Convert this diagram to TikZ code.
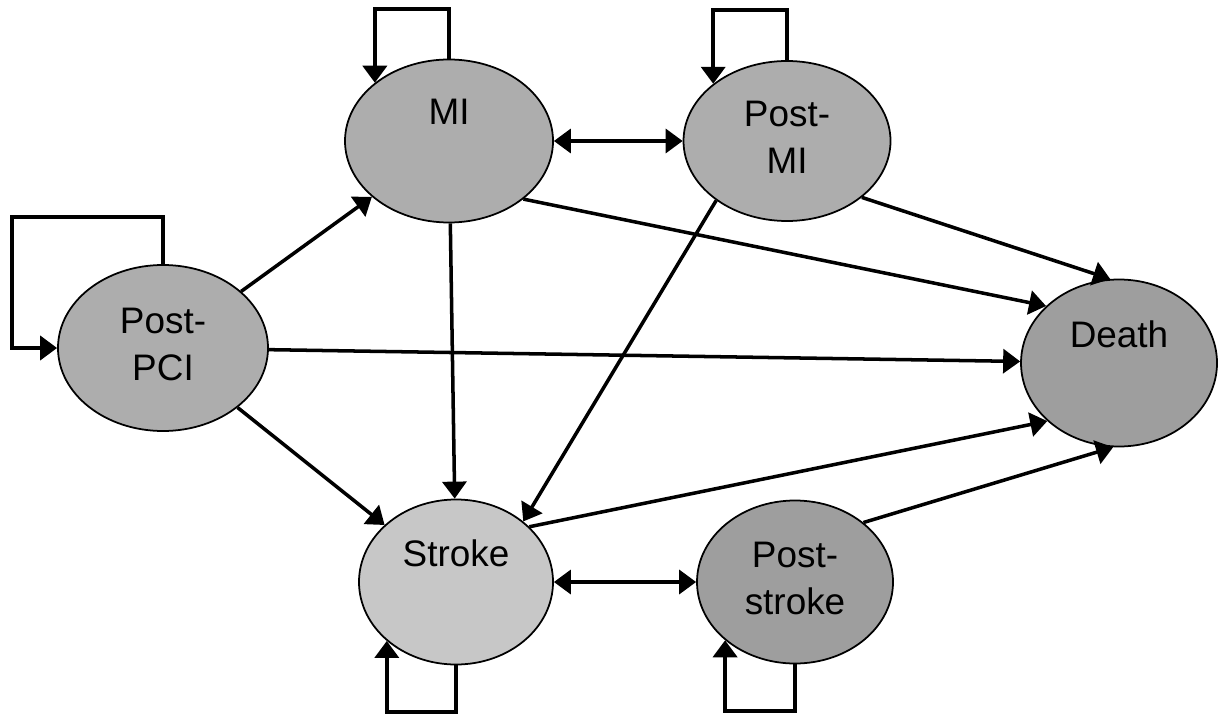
\documentclass[tikz,border=0pt]{standalone}
\usepackage{fontspec}
\setmainfont{Liberation Sans}
\usetikzlibrary{shapes.geometric, arrows.meta, positioning}
\definecolor{grisFosc}{gray}{0.62}
\definecolor{grisMitja}{gray}{0.68}
\definecolor{grisClar}{gray}{0.78}
\tikzstyle{estat} = [ellipse, minimum width=4cm, minimum height=3.3cm, inner sep=0, text centered, draw=black, line width=1pt, font=\fontsize{21}{27}\selectfont]
\tikzstyle{unaLinia} = [text depth=11.6mm]
\tikzstyle{duesLinies} = [align=center, text depth=1.5mm]
\tikzstyle{arrow} = [line width=2pt, -{Triangle[length=3.4mm, width=4.8mm]}]
\tikzstyle{dobleArrow} = [line width=2pt, {Triangle[length=3.4mm, width=4.8mm]}-{Triangle[length=3.4mm, width=4.8mm]}]
\tikzstyle{bucle} = [line width=2.2pt, -{Triangle[length=3.4mm, width=4.8mm]}]

\begin{document}
\begin{tikzpicture}[x=0.2mm, y=-0.2mm, node distance=2cm]
	\useasboundingbox (0,0) rectangle (1218,714);
	
	% Estats del model
	\node (postpci) [estat, duesLinies, fill=grisMitja, minimum width=4.2cm, minimum height=3.32cm] at (163,348) {Post-\\PCI};
	\node (mi) [estat, unaLinia, fill=grisMitja, right of=postpci, xshift=3.72cm, yshift=4.14cm, minimum width=4.16cm, minimum height=3.26cm] {MI};
	\node (postmi) [estat, duesLinies, fill=grisMitja, right of=mi, xshift=4.76cm, minimum width=4.14cm, minimum height=3.2cm] {Post-\\MI};
	\node (death) [estat, unaLinia, fill=grisFosc, right of=postmi, xshift=4.64cm, yshift=-4.44cm, minimum width=3.92cm, minimum height=3.34cm] {Death};
	\node (stroke) [estat, unaLinia, fill=grisClar, below of=mi, xshift=0.14cm, yshift=-6.82cm, minimum width=3.88cm, minimum height=3.3cm] {Stroke};
	\node (poststroke) [estat, duesLinies, fill=grisFosc, right of=stroke, xshift=4.78cm, minimum width=3.92cm, minimum height=3.26cm] {Post-\\stroke};
	
	\coordinate (cantonadaPCI) at (12,217);
	
	% Transicions entre estats
	\draw [arrow] (postpci) -- (mi);
	\draw [arrow] (postpci) -- (death);
	\draw [arrow] (postpci) -- (stroke);
	\draw [arrow] (mi) -- (stroke);
	\draw [arrow] (mi.-38) -- (death.142);
	\draw [dobleArrow] (mi) -- (postmi);
	\draw [arrow] (postmi.-37) -- (death.96);
	\draw [arrow] (postmi.-140) -- (stroke.42);
	\draw [arrow] (stroke.37) -- (death.-141);
	\draw [dobleArrow] (stroke) -- (poststroke);
	\draw [arrow] (poststroke.41) -- (death.-94);
	
	% Bucles (queda al mateix estat)
	\draw [bucle] (postpci.north) |- (cantonadaPCI) |- (postpci.west);
	\draw [bucle] (mi.north) -- ++(0,-50) -| (mi.north west);
	\draw [bucle] (postmi.north) -- ++(0,-50) -| (postmi.north west);
	\draw [bucle] (stroke.south) -- ++(0,47) -| (stroke.south west);
	\draw [bucle] (poststroke.south) -- ++(0,47) -| (poststroke.south west);
	
\end{tikzpicture}
\end{document}
